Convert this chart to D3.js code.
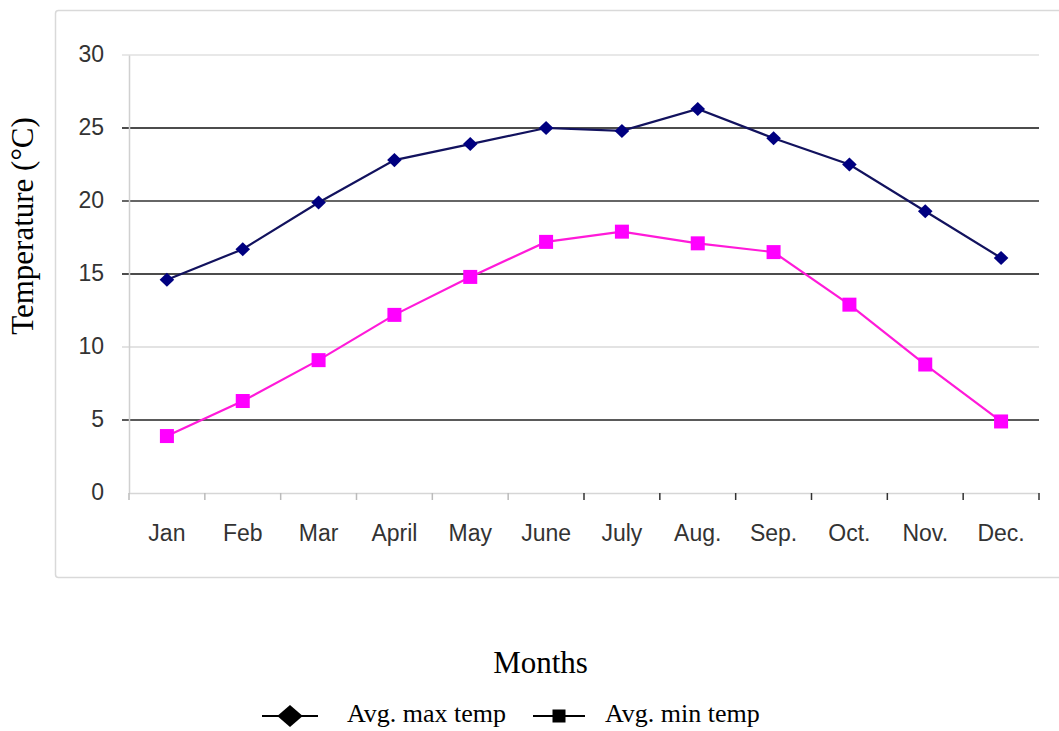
<!DOCTYPE html>
<html>
<head>
<meta charset="utf-8">
<script src="https://cdn.jsdelivr.net/npm/d3@7"></script>
<style>
  html, body { margin: 0; padding: 0; background: #fff; }
  svg { display: block; }
</style>
</head>
<body>
<svg id="chart" width="1059" height="731"></svg>
<script>
const months = ["Jan", "Feb", "Mar", "April", "May", "June", "July", "Aug.", "Sep.", "Oct.", "Nov.", "Dec."];
const maxTemp = [14.6, 16.7, 19.9, 22.8, 23.9, 25.0, 24.8, 26.3, 24.3, 22.5, 19.3, 16.1];
const minTemp = [3.9, 6.3, 9.1, 12.2, 14.8, 17.2, 17.9, 17.1, 16.5, 12.9, 8.8, 4.9];
const yTicks = [0, 5, 10, 15, 20, 25, 30];
const seriesNames = ["Avg. max temp", "Avg. min temp"];

(function () {
const svg = d3.select("#chart");
const pLeft = 129, pRight = 1039, pTop = 55, pBottom = 493;
const sans = "'Liberation Sans', Arial, sans-serif";
const serif = "'Liberation Serif', 'Times New Roman', serif";

// chart frame
svg.append("rect")
  .attr("x", 55.5).attr("y", 10.5)
  .attr("width", 1010).attr("height", 567)
  .attr("rx", 3)
  .attr("fill", "#fff").attr("stroke", "#d9d9d9").attr("stroke-width", 1.5);

const x = d3.scaleBand().domain(months).range([pLeft, pRight]).padding(0);
const y = d3.scaleLinear().domain([0, 30]).range([pBottom, pTop]);

// gridlines
const gridStyle = {
  0: null,
  5: { c: "#5a5a5a", w: 2.2 },
  10: { c: "#c8c8c8", w: 1.2 },
  15: { c: "#111", w: 1.5 },
  20: { c: "#666", w: 2.2 },
  25: { c: "#111", w: 1.5 },
  30: { c: "#d2d2d2", w: 1.2 }
};
svg.append("g").selectAll("line")
  .data(yTicks.filter(t => gridStyle[t]))
  .join("line")
  .attr("x1", pLeft - 7).attr("x2", pRight)
  .attr("y1", d => y(d)).attr("y2", d => y(d))
  .attr("stroke", d => gridStyle[d].c)
  .attr("stroke-width", d => gridStyle[d].w);

// y axis
const yAxis = svg.append("g").attr("transform", `translate(${pLeft},0)`)
  .call(d3.axisLeft(y).tickValues(yTicks).tickSize(0).tickPadding(25));
yAxis.select(".domain").attr("stroke", "#d0d0d0").attr("stroke-width", 1.5);
yAxis.selectAll("text")
  .attr("font-family", sans).attr("dy", "0.28em")
  .attr("font-size", 23).attr("fill", "#333");

// x axis
const xAxis = svg.append("g").attr("transform", `translate(0,${pBottom})`)
  .call(d3.axisBottom(x).tickSize(0).tickPadding(32));
xAxis.select(".domain").attr("stroke", "#d6d6d6").attr("stroke-width", 1.5);
xAxis.selectAll("text")
  .attr("font-family", sans)
  .attr("font-size", 23).attr("fill", "#333");
const boundaries = months.map(m => x(m)).concat([pRight]);
xAxis.append("g").selectAll("line")
  .data(boundaries)
  .join("line")
  .attr("x1", d => d).attr("x2", d => d)
  .attr("y1", 0).attr("y2", 7)
  .attr("stroke", (d, i) => i >= 6 ? "#333" : "#bbb")
  .attr("stroke-width", 1.5);

const cx = m => x(m) + x.bandwidth() / 2;

// lines
const lineGen = d3.line().x((d, i) => cx(months[i])).y(d => y(d));
svg.append("path").datum(maxTemp)
  .attr("d", lineGen).attr("fill", "none")
  .attr("stroke", "#12125e").attr("stroke-width", 2.2);
svg.append("path").datum(minTemp)
  .attr("d", lineGen).attr("fill", "none")
  .attr("stroke", "#ff1ad9").attr("stroke-width", 2.2);

// markers
const diamond = d3.symbol().type(d3.symbolDiamond).size(57);
svg.append("g").selectAll("path")
  .data(maxTemp)
  .join("path")
  .attr("d", diamond)
  .attr("transform", (d, i) => `translate(${cx(months[i])},${y(d)}) scale(1.8,1)`)
  .attr("fill", "#000080");

svg.append("g").selectAll("rect")
  .data(minTemp)
  .join("rect")
  .attr("x", (d, i) => cx(months[i]) - 7)
  .attr("y", d => y(d) - 7)
  .attr("width", 14).attr("height", 14)
  .attr("fill", "#ff00ff");

// axis titles
svg.append("text")
  .attr("transform", `translate(33,226) rotate(-90)`)
  .attr("text-anchor", "middle")
  .attr("font-family", serif)
  .attr("font-size", 31).attr("fill", "#000")
  .text("Temperature (°C)");

svg.append("text")
  .attr("x", 540.5).attr("y", 673)
  .attr("text-anchor", "middle")
  .attr("font-family", serif)
  .attr("font-size", 31).attr("fill", "#000")
  .text("Months");

// legend
const legend = svg.append("g");
const legendItems = [
  { name: seriesNames[0], x1: 262, x2: 318, tx: 347, marker: "diamond" },
  { name: seriesNames[1], x1: 533, x2: 585, tx: 605, marker: "square" }
];
const ly = 716;
legendItems.forEach(it => {
  legend.append("line")
    .attr("x1", it.x1).attr("x2", it.x2).attr("y1", ly).attr("y2", ly)
    .attr("stroke", "#000").attr("stroke-width", 2.2);
  const mx = (it.x1 + it.x2) / 2;
  if (it.marker === "diamond") {
    legend.append("path")
      .attr("d", d3.symbol().type(d3.symbolDiamond).size(140)())
      .attr("transform", `translate(${mx},${ly}) scale(2,1)`)
      .attr("fill", "#000");
  } else {
    legend.append("rect")
      .attr("x", mx - 6.5).attr("y", ly - 6.5).attr("width", 13).attr("height", 13)
      .attr("fill", "#000");
  }
  legend.append("text")
    .attr("x", it.tx).attr("y", ly + 6)
    .attr("font-family", serif)
    .attr("font-size", 26).attr("fill", "#000")
    .text(it.name);
});
})();
</script>
</body>
</html>
